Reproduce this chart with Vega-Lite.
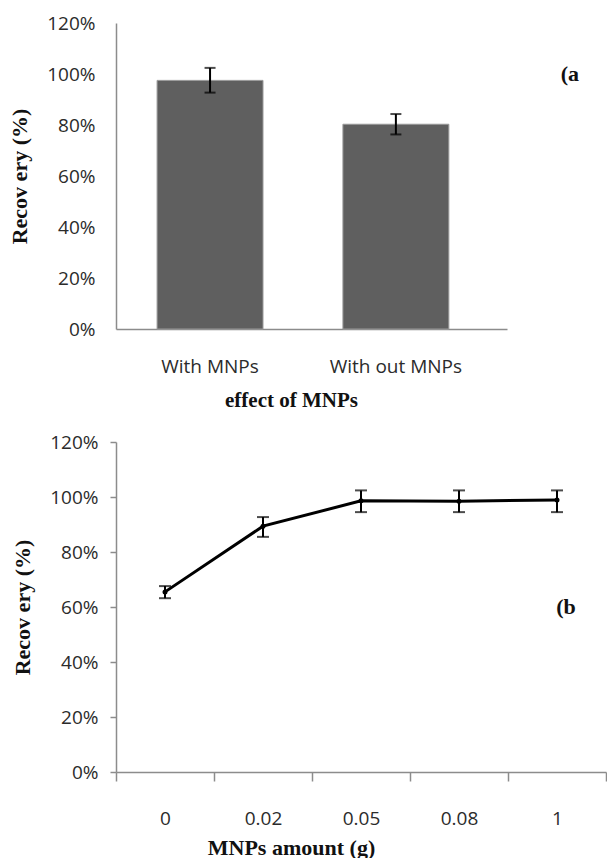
{
  "$schema": "https://vega.github.io/schema/vega-lite/v6.json",
  "background": "white",
  "padding": {"left": 8, "top": 14, "right": 0, "bottom": 0},
  "datasets": {
    "bars": [
      {"group": "With MNPs", "recovery": 0.975, "lo": 0.927, "hi": 1.024},
      {"group": "With out MNPs", "recovery": 0.803, "lo": 0.763, "hi": 0.843}
    ],
    "barLabel": [{"label": "(a", "group": "With out MNPs", "recovery": 1.0}],
    "amount": [
      {"amount": "0", "recovery": 0.655, "lo": 0.632, "hi": 0.676},
      {"amount": "0.02", "recovery": 0.894, "lo": 0.855, "hi": 0.927},
      {"amount": "0.05", "recovery": 0.986, "lo": 0.945, "hi": 1.024},
      {"amount": "0.08", "recovery": 0.985, "lo": 0.945, "hi": 1.024},
      {"amount": "1", "recovery": 0.989, "lo": 0.945, "hi": 1.024}
    ],
    "amountLabel": [{"label": "(b", "amount": "1", "recovery": 0.6}]
  },
  "config": {
    "view": {"stroke": null},
    "axis": {
      "labelFont": "Open Sans", "labelFontSize": 19, "labelColor": "#2b2b2b",
      "titleFont": "Liberation Serif", "titleFontSize": 21, "titleFontWeight": "bold", "titleColor": "#111111",
      "domainColor": "#8c8c8c", "domainWidth": 1.5, "tickColor": "#8c8c8c", "tickWidth": 1.5, "grid": false
    },
    "concat": {"spacing": 23}
  },
  "vconcat": [
    {
      "width": 391,
      "height": 306,
      "layer": [
        {
          "data": {"name": "bars"},
          "mark": {"type": "bar", "color": "#5f5f5f", "stroke": "#9a9a9a", "strokeWidth": 1},
          "encoding": {
            "x": {"field": "group", "type": "nominal", "sort": null,
              "scale": {"paddingInner": 0.43, "paddingOuter": 0.267, "align": 0.414},
              "axis": {"title": "effect of MNPs", "labelAngle": 0, "ticks": false, "labelPadding": 28, "titlePadding": 13, "titleX": 175}},
            "y": {"field": "recovery", "type": "quantitative", "title": "Recov ery (%)",
              "scale": {"domain": [0, 1.2]},
              "axis": {"format": ".0%", "values": [0, 0.2, 0.4, 0.6, 0.8, 1.0, 1.2], "ticks": false, "labelPadding": 21, "titlePadding": 15, "titleFontSize": 22}}
          }
        },
        {
          "data": {"name": "bars"},
          "mark": {"type": "rule", "color": "black", "strokeWidth": 2},
          "encoding": {
            "x": {"field": "group", "type": "nominal", "sort": null},
            "y": {"field": "lo", "type": "quantitative", "title": "Recov ery (%)"},
            "y2": {"field": "hi"}
          }
        },
        {
          "data": {"name": "bars"},
          "mark": {"type": "tick", "color": "black", "size": 11, "thickness": 2},
          "encoding": {
            "x": {"field": "group", "type": "nominal", "sort": null},
            "y": {"field": "lo", "type": "quantitative", "title": "Recov ery (%)"}
          }
        },
        {
          "data": {"name": "bars"},
          "mark": {"type": "tick", "color": "black", "size": 11, "thickness": 2},
          "encoding": {
            "x": {"field": "group", "type": "nominal", "sort": null},
            "y": {"field": "hi", "type": "quantitative", "title": "Recov ery (%)"}
          }
        },
        {
          "data": {"name": "barLabel"},
          "mark": {"type": "text", "font": "Liberation Serif", "fontWeight": "bold", "fontSize": 22, "color": "#111111", "dx": 174, "baseline": "middle"},
          "encoding": {
            "x": {"field": "group", "type": "nominal", "sort": null},
            "y": {"field": "recovery", "type": "quantitative", "title": "Recov ery (%)"},
            "text": {"field": "label"}
          }
        }
      ]
    },
    {
      "width": 490,
      "height": 330,
      "layer": [
        {
          "data": {"name": "amount"},
          "mark": {"type": "line", "color": "black", "strokeWidth": 3, "point": {"filled": true, "color": "black", "size": 25}},
          "encoding": {
            "x": {"field": "amount", "type": "nominal", "sort": null,
              "scale": {"paddingInner": 0, "paddingOuter": 0},
              "axis": {"title": "MNPs amount (g)", "labelAngle": 0, "tickBand": "extent", "tickSize": 9, "labelPadding": 28, "titlePadding": 9, "titleX": 175, "titleFontSize": 22}},
            "y": {"field": "recovery", "type": "quantitative", "title": "Recov ery (%)",
              "scale": {"domain": [0, 1.2]},
              "axis": {"format": ".0%", "values": [0, 0.2, 0.4, 0.6, 0.8, 1.0, 1.2], "tickSize": 6, "labelPadding": 12, "titlePadding": 15, "titleFontSize": 22}}
          }
        },
        {
          "data": {"name": "amount"},
          "mark": {"type": "rule", "color": "black", "strokeWidth": 2},
          "encoding": {
            "x": {"field": "amount", "type": "nominal", "sort": null},
            "y": {"field": "lo", "type": "quantitative", "title": "Recov ery (%)"},
            "y2": {"field": "hi"}
          }
        },
        {
          "data": {"name": "amount"},
          "mark": {"type": "tick", "color": "black", "size": 12, "thickness": 2},
          "encoding": {
            "x": {"field": "amount", "type": "nominal", "sort": null},
            "y": {"field": "lo", "type": "quantitative", "title": "Recov ery (%)"}
          }
        },
        {
          "data": {"name": "amount"},
          "mark": {"type": "tick", "color": "black", "size": 12, "thickness": 2},
          "encoding": {
            "x": {"field": "amount", "type": "nominal", "sort": null},
            "y": {"field": "hi", "type": "quantitative", "title": "Recov ery (%)"}
          }
        },
        {
          "data": {"name": "amountLabel"},
          "mark": {"type": "text", "font": "Liberation Serif", "fontWeight": "bold", "fontSize": 22, "color": "#111111", "dx": 9, "baseline": "middle"},
          "encoding": {
            "x": {"field": "amount", "type": "nominal", "sort": null},
            "y": {"field": "recovery", "type": "quantitative", "title": "Recov ery (%)"},
            "text": {"field": "label"}
          }
        }
      ]
    }
  ]
}
